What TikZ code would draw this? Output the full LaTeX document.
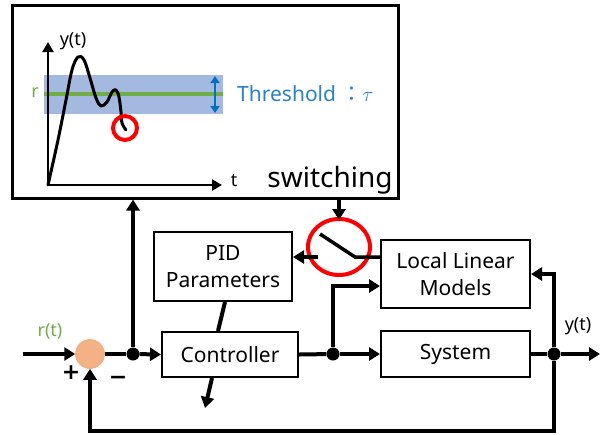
\documentclass[tikz,border=0pt]{standalone}
\usepackage{fontspec}
\setmainfont{Noto Sans}
\newfontfamily\cjkfont{Noto Sans CJK JP}
\newfontfamily\signfont{DejaVu Sans}
\usetikzlibrary{arrows.meta,calc,shapes.geometric}
\definecolor{bandblue}{RGB}{164,185,224}
\definecolor{rgreen}{RGB}{112,173,71}
\definecolor{darrow}{RGB}{0,112,192}
\definecolor{thtext}{RGB}{40,130,200}
\definecolor{sumfill}{RGB}{244,177,131}
\tikzset{
  blk/.style={draw, line width=2pt, inner sep=0pt, align=center, font=\fontsize{21}{27}\selectfont},
  arr/.style={line width=4pt, -{Triangle[length=11pt,width=13pt]}},
  wire/.style={line width=4pt},
  axarr/.style={line width=2.8pt, -{Triangle[length=10pt,width=11pt]}},
  jdot/.style={circle, fill=black, inner sep=0pt, minimum size=13pt},
  lbl/.style={inner sep=0pt, font=\fontsize{18}{20}\selectfont},
}
\begin{document}
\begin{tikzpicture}[x=1pt,y=-1pt]
\useasboundingbox (0,0) rectangle (604,434);
% ---------- top frame with graph ----------
\node[draw, line width=3pt, minimum width=386pt, minimum height=193pt, inner sep=0pt] (frame) at (205,101.5) {};
\fill[bandblue] (44,75) rectangle (223,114);
\draw[rgreen, line width=3.5pt] (44,94) -- (223,94);
\draw[darrow, line width=2.2pt, {Triangle[length=7pt,width=9pt]}-{Triangle[length=7pt,width=9pt]}] (215,76) -- (215,113);
\draw[axarr] (48,185) -- (48,42);
\draw[axarr] (48,185) -- (222,185);
\draw[line width=3pt, line join=round, line cap=round] plot[smooth, tension=0.6] coordinates {(48,185) (58,140) (66,100) (72,70) (78,57) (84,60) (90,78) (96,98) (101,106) (107,102) (112,92) (116,90) (119,97) (121,112) (122,123) (126,130)};
\draw[red, line width=4pt] (125,128) circle (12);
\node[lbl] (ylab) at (73,41) {y(t)};
\node[lbl, text=rgreen] (rlab) at (35,93) {r};
\node[lbl] (tlab) at (234,181) {t};
\node[inner sep=0pt, anchor=west, text=thtext, font=\fontsize{21}{24}\selectfont] (thr) at (237,94) {Threshold {\cjkfont ：}$\tau$};
\node[inner sep=0pt, font=\fontsize{28}{30}\selectfont] (swt) at (330,180) {switching};
% ---------- block diagram ----------
\node[blk, minimum width=138pt, minimum height=69pt] (pid) at (223,266.5) {PID\\Parameters};
\node[blk, minimum width=136pt, minimum height=45pt] (ctrl) at (230,354.5) {Controller};
\node[blk, minimum width=149pt, minimum height=46pt] (sys) at (455.5,354) {System};
\node[blk, minimum width=149pt, minimum height=68pt] (llm) at (455.5,274) {Local Linear\\Models};
\node[circle, fill=sumfill, draw=sumfill!90!red, line width=0.5pt, minimum size=29pt, inner sep=0pt] (sum) at (90,354) {};
\node[jdot] (j1) at (133,354) {};
\node[jdot] (j2) at (333,354) {};
\node[jdot] (j3) at (554,354) {};
\node[draw=red, line width=4pt, ellipse, minimum width=62pt, minimum height=56pt, inner sep=0pt] (sw) at (339,247) {};
\coordinate (rin) at (23,354);
\coordinate (yout) at (600,354);
\coordinate (fb) at (554,431);
\coordinate (swpivot) at (355,257);
\coordinate (swtip) at (320,234);
\coordinate (swout) at (318,257);
% connectors
\draw[arr] (rin) -- (sum.west);
\draw[wire] (sum.east) -- (j1);
\draw[arr] (j1) -- (ctrl.west);
\draw[arr] (j1) -- (j1 |- frame.south);
\draw[wire] (ctrl.east) -- (j2);
\draw[arr] (j2) -- (sys.west);
\draw[arr] (j2) |- ($(llm.west)+(0,12)$);
\draw[wire] (sys.east) -- (j3);
\draw[arr] (j3) -- (yout);
\draw[arr] (j3) |- (llm.east);
\draw[arr] (j3) -- (fb) -| (sum.south);
\draw[wire] ($(pid.south)+(2,0)$) -- ($(ctrl.north)+(-12,0)$);
\draw[arr] ($(ctrl.south)+(-18,0)$) -- ++(-7,30);
\draw[line width=3.5pt] ($(llm.west)+(0,-17)$) -- (swpivot) -- (swtip);
\draw[arr] (swout) -- ($(pid.east)+(0,-9.5)$);
\draw[arr] (sw |- frame.south) -- ($(sw.north)+(0,3)$);
% labels
\node[lbl, text=rgreen] (rtl) at (50,331) {r(t)};
\node[lbl] (ytl) at (578,326) {y(t)};
\node[inner sep=0pt, font=\signfont\bfseries\fontsize{22}{24}\selectfont] (plus) at (71,373) {+};
\node[inner sep=0pt, font=\signfont\bfseries\fontsize{22}{24}\selectfont] (minus) at (118,380) {−};
\end{tikzpicture}
\end{document}
